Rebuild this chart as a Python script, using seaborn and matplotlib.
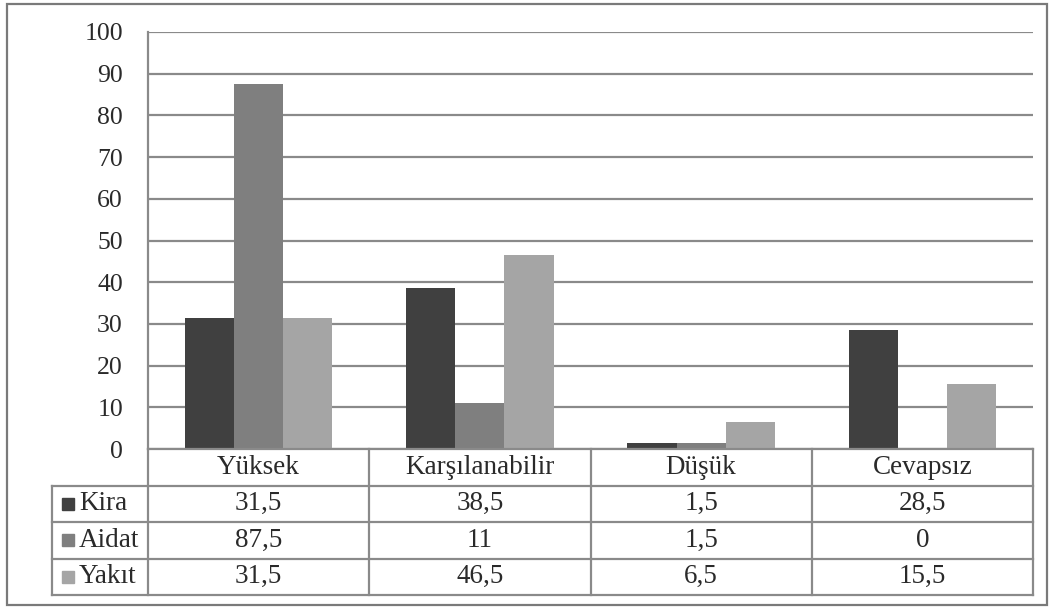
import matplotlib
matplotlib.use("Agg")
import matplotlib.pyplot as plt
from matplotlib.patches import Rectangle
import pandas as pd
import seaborn as sns

# Survey responses (%) per cost item
categories = ["Yüksek", "Karşılanabilir", "Düşük", "Cevapsız"]
series_names = ["Kira", "Aidat", "Yakıt"]
kira = [31.5, 38.5, 1.5, 28.5]
aidat = [87.5, 11, 1.5, 0]
yakit = [31.5, 46.5, 6.5, 15.5]
y_ticks = list(range(0, 101, 10))
colors = ["#404040", "#7f7f7f", "#a5a5a5"]

series_values = [kira, aidat, yakit]
df = pd.DataFrame(
    [(c, s, v) for s, vals in zip(series_names, series_values)
     for c, v in zip(categories, vals)],
    columns=["Kategori", "Seri", "Değer"],
)

sns.set_theme(style="white")
plt.rcParams["font.family"] = ["Liberation Serif", "DejaVu Serif"]

LINE = "#8a8a8a"
TXT = "#2a2a2a"
FS = 19.5
TICK_FS = 18.5

W, H = 1056, 610
fig = plt.figure(figsize=(W / 100, H / 100), dpi=100)
fig.patch.set_facecolor("white")


def fx(px):
    return px / W


def fy(py):
    return 1 - py / H


# Plot area
x0, x1, ytop, ybot = 148, 1033, 32, 449
ax = fig.add_axes([fx(x0), fy(ybot), fx(x1) - fx(x0), fy(ytop) - fy(ybot)])
sns.barplot(data=df, x="Kategori", y="Değer", hue="Seri", palette=colors,
            width=0.667, gap=0, saturation=1, linewidth=0, edgecolor="none",
            legend=False, ax=ax)
ax.set_xlim(-0.5, len(categories) - 0.5)
ax.set_ylim(0, 100)
ax.set_yticks(y_ticks)
ax.set_xticks([])
ax.set_xlabel("")
ax.set_ylabel("")
ax.yaxis.grid(True, color=LINE, lw=1.6)
ax.set_axisbelow(True)
for side in ["top", "right", "bottom"]:
    ax.spines[side].set_visible(False)
ax.spines["left"].set_color(LINE)
ax.spines["left"].set_linewidth(1.6)
ax.tick_params(axis="y", length=0, pad=18, labelsize=TICK_FS, labelcolor=TXT)

# Data table below the plot
unit_px = (x1 - x0) / len(categories)
tl, tb = 52, 595
xleft = -0.5 - (x0 - tl) / unit_px
xright = len(categories) - 0.5
tax = fig.add_axes([fx(tl), fy(tb), fx(x1) - fx(tl), fy(ybot) - fy(tb)])
tax.set_xlim(xleft, xright)
tax.set_ylim(4, 0)
tax.axis("off")

lk = dict(color=LINE, lw=1.6, clip_on=False, solid_capstyle="projecting")
tax.plot([-0.5, xright], [0, 0], **lk)
for r in range(1, 5):
    tax.plot([xleft, xright], [r, r], **lk)
for k in range(len(categories) + 1):
    tax.plot([-0.5 + k, -0.5 + k], [0, 4], **lk)
tax.plot([xleft, xleft], [1, 4], **lk)

for i, c in enumerate(categories):
    tax.text(i, 0.5, c, ha="center", va="center", fontsize=FS, color=TXT)


def fmt(v):
    return f"{v:g}".replace(".", ",")


for r, (name, vals, col) in enumerate(zip(series_names, series_values, colors)):
    yc = r + 1.5
    tax.plot([xleft + 16 / unit_px], [yc], marker="s", ms=9, color=col,
             ls="none", clip_on=False)
    tax.text(xleft + 27 / unit_px, yc, name, ha="left", va="center",
             fontsize=FS, color=TXT)
    for i, v in enumerate(vals):
        tax.text(i, yc, fmt(v), ha="center", va="center", fontsize=FS, color=TXT)

# Chart frame
fig.patches.append(Rectangle((fx(7), fy(605)), fx(1047) - fx(7), fy(4) - fy(605),
                             transform=fig.transFigure, fill=False,
                             edgecolor="#7a7a7a", lw=1.6))

fig.savefig("out.png", dpi=100)
